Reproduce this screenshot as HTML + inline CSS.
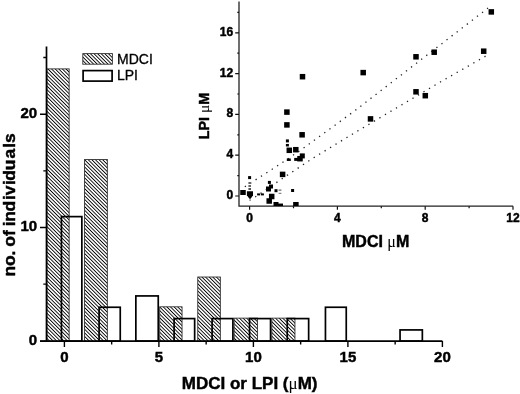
<!DOCTYPE html>
<html><head><meta charset="utf-8"><style>
html,body{margin:0;padding:0;background:#fff;overflow:hidden;}
svg{display:block;filter:grayscale(1);}
text{font-family:"Liberation Sans",sans-serif;}
text[font-weight="bold"]{stroke:#000;stroke-width:0.45px;}
text.n{stroke:#000;stroke-width:0.3px;}
tspan{stroke:none;}
</style></head><body>
<svg width="520" height="394" viewBox="0 0 520 394">
<defs>
<pattern id="h" width="2.55" height="10" patternUnits="userSpaceOnUse" patternTransform="rotate(-45)">
<rect width="0.9" height="10" fill="#000"/>
</pattern>
</defs>
<rect width="520" height="394" fill="#fff"/>

<rect x="46.95" y="68.88" width="22.20" height="272.22" fill="url(#h)" stroke="#333" stroke-width="0.9"/>
<rect x="84.55" y="159.52" width="22.80" height="181.58" fill="url(#h)" stroke="#333" stroke-width="0.9"/>
<rect x="159.70" y="306.81" width="22.35" height="34.29" fill="url(#h)" stroke="#333" stroke-width="0.9"/>
<rect x="197.75" y="277.01" width="22.60" height="64.09" fill="url(#h)" stroke="#333" stroke-width="0.9"/>
<rect x="234.15" y="318.14" width="23.30" height="22.96" fill="url(#h)" stroke="#333" stroke-width="0.9"/>
<rect x="271.85" y="318.14" width="23.10" height="22.96" fill="url(#h)" stroke="#333" stroke-width="0.9"/>
<rect x="61.45" y="216.62" width="20.40" height="124.48" fill="none" stroke="#000" stroke-width="1.7"/>
<rect x="99.10" y="307.26" width="21.15" height="33.84" fill="none" stroke="#000" stroke-width="1.7"/>
<rect x="135.85" y="295.93" width="22.40" height="45.17" fill="none" stroke="#000" stroke-width="1.7"/>
<rect x="174.10" y="318.59" width="20.55" height="22.51" fill="none" stroke="#000" stroke-width="1.7"/>
<rect x="212.10" y="318.59" width="20.80" height="22.51" fill="none" stroke="#000" stroke-width="1.7"/>
<rect x="249.55" y="318.59" width="21.00" height="22.51" fill="none" stroke="#000" stroke-width="1.7"/>
<rect x="287.25" y="318.59" width="21.40" height="22.51" fill="none" stroke="#000" stroke-width="1.7"/>
<rect x="325.45" y="307.26" width="20.80" height="33.84" fill="none" stroke="#000" stroke-width="1.7"/>
<rect x="400.05" y="329.92" width="22.30" height="11.18" fill="none" stroke="#000" stroke-width="1.7"/>
<path d="M46.5 46.4 V341.1 M40 341.1 H442.4" stroke="#000" stroke-width="1.7" fill="none"/>
<path d="M40 341.10 H46.5 M40 227.50 H46.5 M40 114.20 H46.5 M43.3 284.15 H46.5 M43.3 170.85 H46.5 M43.3 57.55 H46.5 M64.40 341.1 V347 M158.90 341.1 V347 M253.40 341.1 V347 M347.90 341.1 V347 M442.40 341.1 V347 M111.65 341.1 V344.4 M206.15 341.1 V344.4 M300.65 341.1 V344.4 M395.15 341.1 V344.4" stroke="#000" stroke-width="1.4" fill="none"/>
<text x="37.2" y="344.60" font-size="15" font-weight="bold" text-anchor="end">0</text>
<text x="37.2" y="231.30" font-size="15" font-weight="bold" text-anchor="end">10</text>
<text x="37.2" y="118.00" font-size="15" font-weight="bold" text-anchor="end">20</text>
<text x="64.40" y="362" font-size="15" font-weight="bold" text-anchor="middle">0</text>
<text x="158.90" y="362" font-size="15" font-weight="bold" text-anchor="middle">5</text>
<text x="253.40" y="362" font-size="15" font-weight="bold" text-anchor="middle">10</text>
<text x="347.90" y="362" font-size="15" font-weight="bold" text-anchor="middle">15</text>
<text x="442.40" y="362" font-size="15" font-weight="bold" text-anchor="middle">20</text>
<text x="181.8" y="388.8" font-size="17" font-weight="bold">MDCI or LPI (<tspan font-family="Liberation Serif" font-weight="normal">μ</tspan>M)</text>
<text transform="translate(14.5,275.2) rotate(-90)" x="-1.20 9.21 19.63 24.06 28.51 39.13 44.51 48.94 53.38 63.81 75.22 80.06 90.13 94.56 104.99 116.81 127.48 132.21" font-size="17.4" font-weight="bold">no. of individuals</text>
<rect x="82.8" y="53.6" width="29.6" height="10.6" fill="url(#h)" stroke="#333" stroke-width="0.9"/>
<rect x="83.1" y="70.6" width="29" height="10.5" fill="none" stroke="#000" stroke-width="1.7"/>
<text class="n" x="117" y="63.6" font-size="14">MDCI</text>
<text class="n" x="117" y="80.4" font-size="14">LPI</text>
<path d="M239 1.6 V206.2 H513.1" stroke="#222" stroke-width="1.3" fill="none"/>
<path d="M235.2 196.00 H239 M235.2 155.20 H239 M235.2 114.40 H239 M235.2 73.60 H239 M235.2 32.80 H239 M237.3 175.60 H239 M237.3 134.80 H239 M237.3 94.00 H239 M237.3 53.20 H239 M237.3 12.40 H239 M249.60 206.2 V209.8 M337.40 206.2 V209.8 M425.20 206.2 V209.8 M513.00 206.2 V209.8 M293.50 206.2 V208.2 M381.30 206.2 V208.2 M469.10 206.2 V208.2" stroke="#111" stroke-width="1.2" fill="none"/>
<text x="233.1" y="198.90" font-size="12" font-weight="bold" text-anchor="end">0</text>
<text x="233.1" y="158.10" font-size="12" font-weight="bold" text-anchor="end">4</text>
<text x="233.1" y="117.30" font-size="12" font-weight="bold" text-anchor="end">8</text>
<text x="233.1" y="76.50" font-size="12" font-weight="bold" text-anchor="end">12</text>
<text x="233.1" y="35.70" font-size="12" font-weight="bold" text-anchor="end">16</text>
<text x="249.60" y="221.8" font-size="12" font-weight="bold" text-anchor="middle">0</text>
<text x="337.40" y="221.8" font-size="12" font-weight="bold" text-anchor="middle">4</text>
<text x="425.20" y="221.8" font-size="12" font-weight="bold" text-anchor="middle">8</text>
<text x="513.00" y="221.8" font-size="12" font-weight="bold" text-anchor="middle">12</text>
<text x="342" y="246.5" font-size="16" font-weight="bold">MDCI <tspan font-family="Liberation Serif" font-weight="normal">μ</tspan>M</text>
<text transform="translate(209.1,139.3) rotate(-90)" font-size="14.3" font-weight="bold">LPI <tspan font-family="Liberation Serif" font-weight="normal" font-size="15.5">μ</tspan>M</text>
<path d="M244.8,186.8 L281.6,163.1 L302.7,148.7 L355.9,109.9 L419.3,61 L488,8.1" stroke="#222" stroke-width="1.3" fill="none" stroke-dasharray="1.3 5.1"/>
<path d="M255.2,197 L287,175.4 L313.4,157.9 L355.9,132 L439.6,82.4 L488,54.8" stroke="#222" stroke-width="1.3" fill="none" stroke-dasharray="1.3 5.1"/>
<rect x="488.55" y="9.15" width="5.5" height="5.5" fill="#000"/>
<rect x="480.95" y="48.45" width="5.5" height="5.5" fill="#000"/>
<rect x="431.45" y="49.45" width="5.5" height="5.5" fill="#000"/>
<rect x="413.25" y="54.05" width="5.5" height="5.5" fill="#000"/>
<rect x="360.45" y="69.85" width="5.5" height="5.5" fill="#000"/>
<rect x="413.25" y="89.05" width="5.5" height="5.5" fill="#000"/>
<rect x="422.55" y="92.95" width="5.5" height="5.5" fill="#000"/>
<rect x="367.75" y="116.15" width="5.5" height="5.5" fill="#000"/>
<rect x="299.75" y="73.95" width="5.5" height="5.5" fill="#000"/>
<rect x="284.15" y="109.35" width="5.5" height="5.5" fill="#000"/>
<rect x="284.15" y="122.15" width="5.5" height="5.5" fill="#000"/>
<rect x="299.35" y="132.05" width="5.5" height="5.5" fill="#000"/>
<rect x="286.55" y="147.55" width="5.5" height="5.5" fill="#000"/>
<rect x="293.05" y="146.95" width="5.5" height="5.5" fill="#000"/>
<rect x="299.80" y="153.40" width="5" height="5" fill="#000"/>
<rect x="297.25" y="155.95" width="5.5" height="5.5" fill="#000"/>
<rect x="294.20" y="157.90" width="4" height="3" fill="#000"/>
<rect x="286.80" y="158.45" width="4" height="2.5" fill="#000"/>
<rect x="285.90" y="139.40" width="3" height="3" fill="#000"/>
<rect x="285.90" y="143.95" width="3" height="2.5" fill="#000"/>
<rect x="279.85" y="171.65" width="5.5" height="5.5" fill="#000"/>
<rect x="240.25" y="190.00" width="5.5" height="5" fill="#000"/>
<rect x="267.90" y="180.90" width="3" height="3" fill="#000"/>
<rect x="266.00" y="186.50" width="5" height="5" fill="#000"/>
<rect x="269.00" y="184.50" width="4" height="4" fill="#000"/>
<rect x="274.50" y="189.20" width="3" height="3" fill="#000"/>
<rect x="291.10" y="189.00" width="3" height="3" fill="#000"/>
<rect x="257.10" y="193.40" width="3" height="2" fill="#000"/>
<rect x="260.90" y="193.40" width="3" height="2" fill="#000"/>
<rect x="248.10" y="176.10" width="3" height="3" fill="#000"/>
<rect x="268.95" y="193.75" width="5.5" height="5.5" fill="#000"/>
<rect x="266.45" y="198.25" width="5.5" height="5.5" fill="#000"/>
<rect x="273.50" y="202.00" width="5" height="4" fill="#000"/>
<rect x="278.00" y="203.55" width="5" height="2.5" fill="#000"/>
<rect x="293.15" y="202.00" width="5.5" height="4" fill="#000"/>
<rect x="248.4" y="182" width="2.6" height="2" fill="#666"/><rect x="248.4" y="185" width="2.6" height="2" fill="#666"/><rect x="248.4" y="188" width="2.6" height="2" fill="#555"/>
<rect x="278.6" y="189.6" width="2.8" height="1" fill="#444"/><rect x="278.6" y="192.8" width="2.8" height="1" fill="#666"/>
<polygon points="246.9,191.3 253,191.3 253,195.2 250.6,198.8 249.4,198.8 246.9,195.2" fill="#000"/><rect x="249.3" y="199.3" width="1.6" height="1.6" fill="#888"/>
</svg></body></html>
